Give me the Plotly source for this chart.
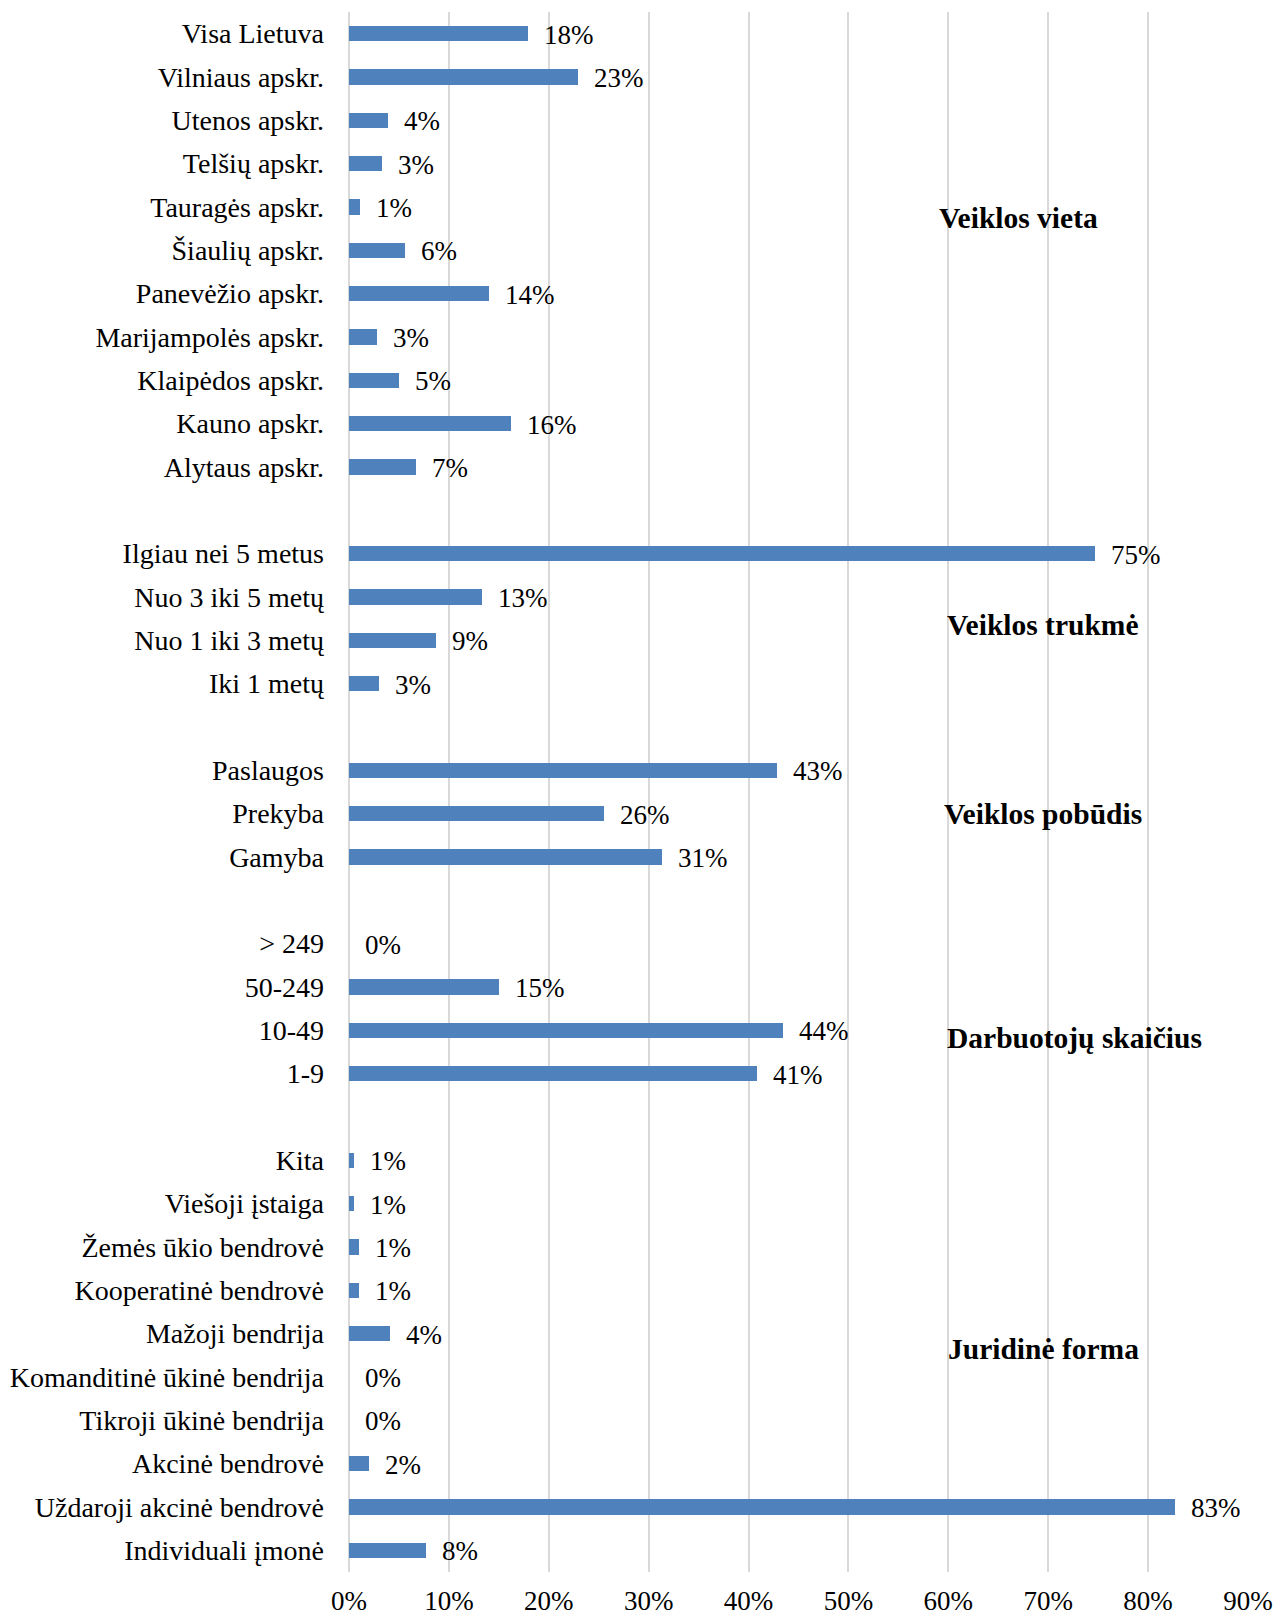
import plotly.graph_objects as go

# ---- data (top to bottom within each group) ----
vieta_labels = ["Visa Lietuva", "Vilniaus apskr.", "Utenos apskr.", "Telšių apskr.", "Tauragės apskr.",
                "Šiaulių apskr.", "Panevėžio apskr.", "Marijampolės apskr.", "Klaipėdos apskr.",
                "Kauno apskr.", "Alytaus apskr."]
vieta_values = [0.179, 0.229, 0.039, 0.033, 0.011, 0.056, 0.140, 0.028, 0.050, 0.162, 0.067]
vieta_text = ["18%", "23%", "4%", "3%", "1%", "6%", "14%", "3%", "5%", "16%", "7%"]

trukme_labels = ["Ilgiau nei 5 metus", "Nuo 3 iki 5 metų", "Nuo 1 iki 3 metų", "Iki 1 metų"]
trukme_values = [0.747, 0.133, 0.087, 0.030]
trukme_text = ["75%", "13%", "9%", "3%"]

pobudis_labels = ["Paslaugos", "Prekyba", "Gamyba"]
pobudis_values = [0.428, 0.255, 0.313]
pobudis_text = ["43%", "26%", "31%"]

darb_labels = ["> 249", "50-249", "10-49", "1-9"]
darb_values = [0.0, 0.150, 0.434, 0.408]
darb_text = ["0%", "15%", "44%", "41%"]

jur_labels = ["Kita", "Viešoji įstaiga", "Žemės ūkio bendrovė", "Kooperatinė bendrovė", "Mažoji bendrija",
              "Komanditinė ūkinė bendrija", "Tikroji ūkinė bendrija", "Akcinė bendrovė",
              "Uždaroji akcinė bendrovė", "Individuali įmonė"]
jur_values = [0.005, 0.005, 0.010, 0.010, 0.041, 0.0, 0.0, 0.020, 0.827, 0.077]
jur_text = ["1%", "1%", "1%", "1%", "4%", "0%", "0%", "2%", "83%", "8%"]

group_titles = ["Veiklos vieta", "Veiklos trukmė", "Veiklos pobūdis", "Darbuotojų skaičius", "Juridinė forma"]

groups = [
    (vieta_labels, vieta_values, vieta_text),
    (trukme_labels, trukme_values, trukme_text),
    (pobudis_labels, pobudis_values, pobudis_text),
    (darb_labels, darb_values, darb_text),
    (jur_labels, jur_values, jur_text),
]

# title placement (row offset within group, x in axis units)
title_row_offset = [4.25, 1.65, 1.0, 2.18, 4.36]
title_x = [0.589, 0.597, 0.594, 0.597, 0.598]

# ---- build rows with a blank row between groups ----
labels, values, texts, rows = [], [], [], []
group_start = []
r = 0
for gi, (lab, val, txt) in enumerate(groups):
    group_start.append(r)
    for l, v, t in zip(lab, val, txt):
        labels.append(l)
        values.append(v)
        texts.append(t)
        rows.append(r)
        r += 1
    if gi < len(groups) - 1:
        r += 1
n_rows = r

FONT = "Liberation Serif, Times New Roman, serif"
BLUE = "#4F81BD"
GRID = "#d9d9d9"

fig = go.Figure()
fig.add_trace(go.Bar(
    x=values, y=rows, orientation="h", width=0.36,
    marker=dict(color=BLUE, line=dict(width=0)),
    hoverinfo="skip",
))

annotations = []
for v, rr, t in zip(values, rows, texts):
    annotations.append(dict(
        x=v, y=rr, xref="x", yref="y", text=t, showarrow=False,
        xanchor="left", yanchor="middle", xshift=14, yshift=-1,
        font=dict(family=FONT, size=27, color="black"),
    ))
for gi, title in enumerate(group_titles):
    annotations.append(dict(
        x=title_x[gi], y=group_start[gi] + title_row_offset[gi], xref="x", yref="y",
        text="<b>" + title + "</b>", showarrow=False,
        xanchor="left", yanchor="middle",
        font=dict(family=FONT, size=29.5, color="black"),
    ))

fig.update_layout(
    width=1274, height=1616,
    margin=dict(l=349, r=26, t=12, b=44, autoexpand=False),
    paper_bgcolor="white", plot_bgcolor="white",
    showlegend=False,
    font=dict(family=FONT, size=28, color="black"),
    annotations=annotations,
    bargap=0,
)
fig.update_xaxes(
    range=[0, 0.9], dtick=0.1, tick0=0, tickformat=".0%",
    showgrid=True, gridcolor=GRID, gridwidth=1.5,
    zeroline=True, zerolinecolor=GRID, zerolinewidth=1.5,
    showline=False, ticks="", ticklabelstandoff=10,
    tickfont=dict(family=FONT, size=27, color="black"),
    automargin=False, fixedrange=True,
)
fig.update_yaxes(
    range=[n_rows - 0.5, -0.5],
    tickmode="array", tickvals=rows, ticktext=labels,
    showgrid=False, zeroline=False, showline=False, ticks="",
    ticklabelstandoff=24,
    tickfont=dict(family=FONT, size=28, color="black"),
    automargin=False, fixedrange=True,
)

fig.write_html("out.html", config={"displayModeBar": False},
               post_script="document.body.style.margin='0';document.body.style.overflow='hidden';")
